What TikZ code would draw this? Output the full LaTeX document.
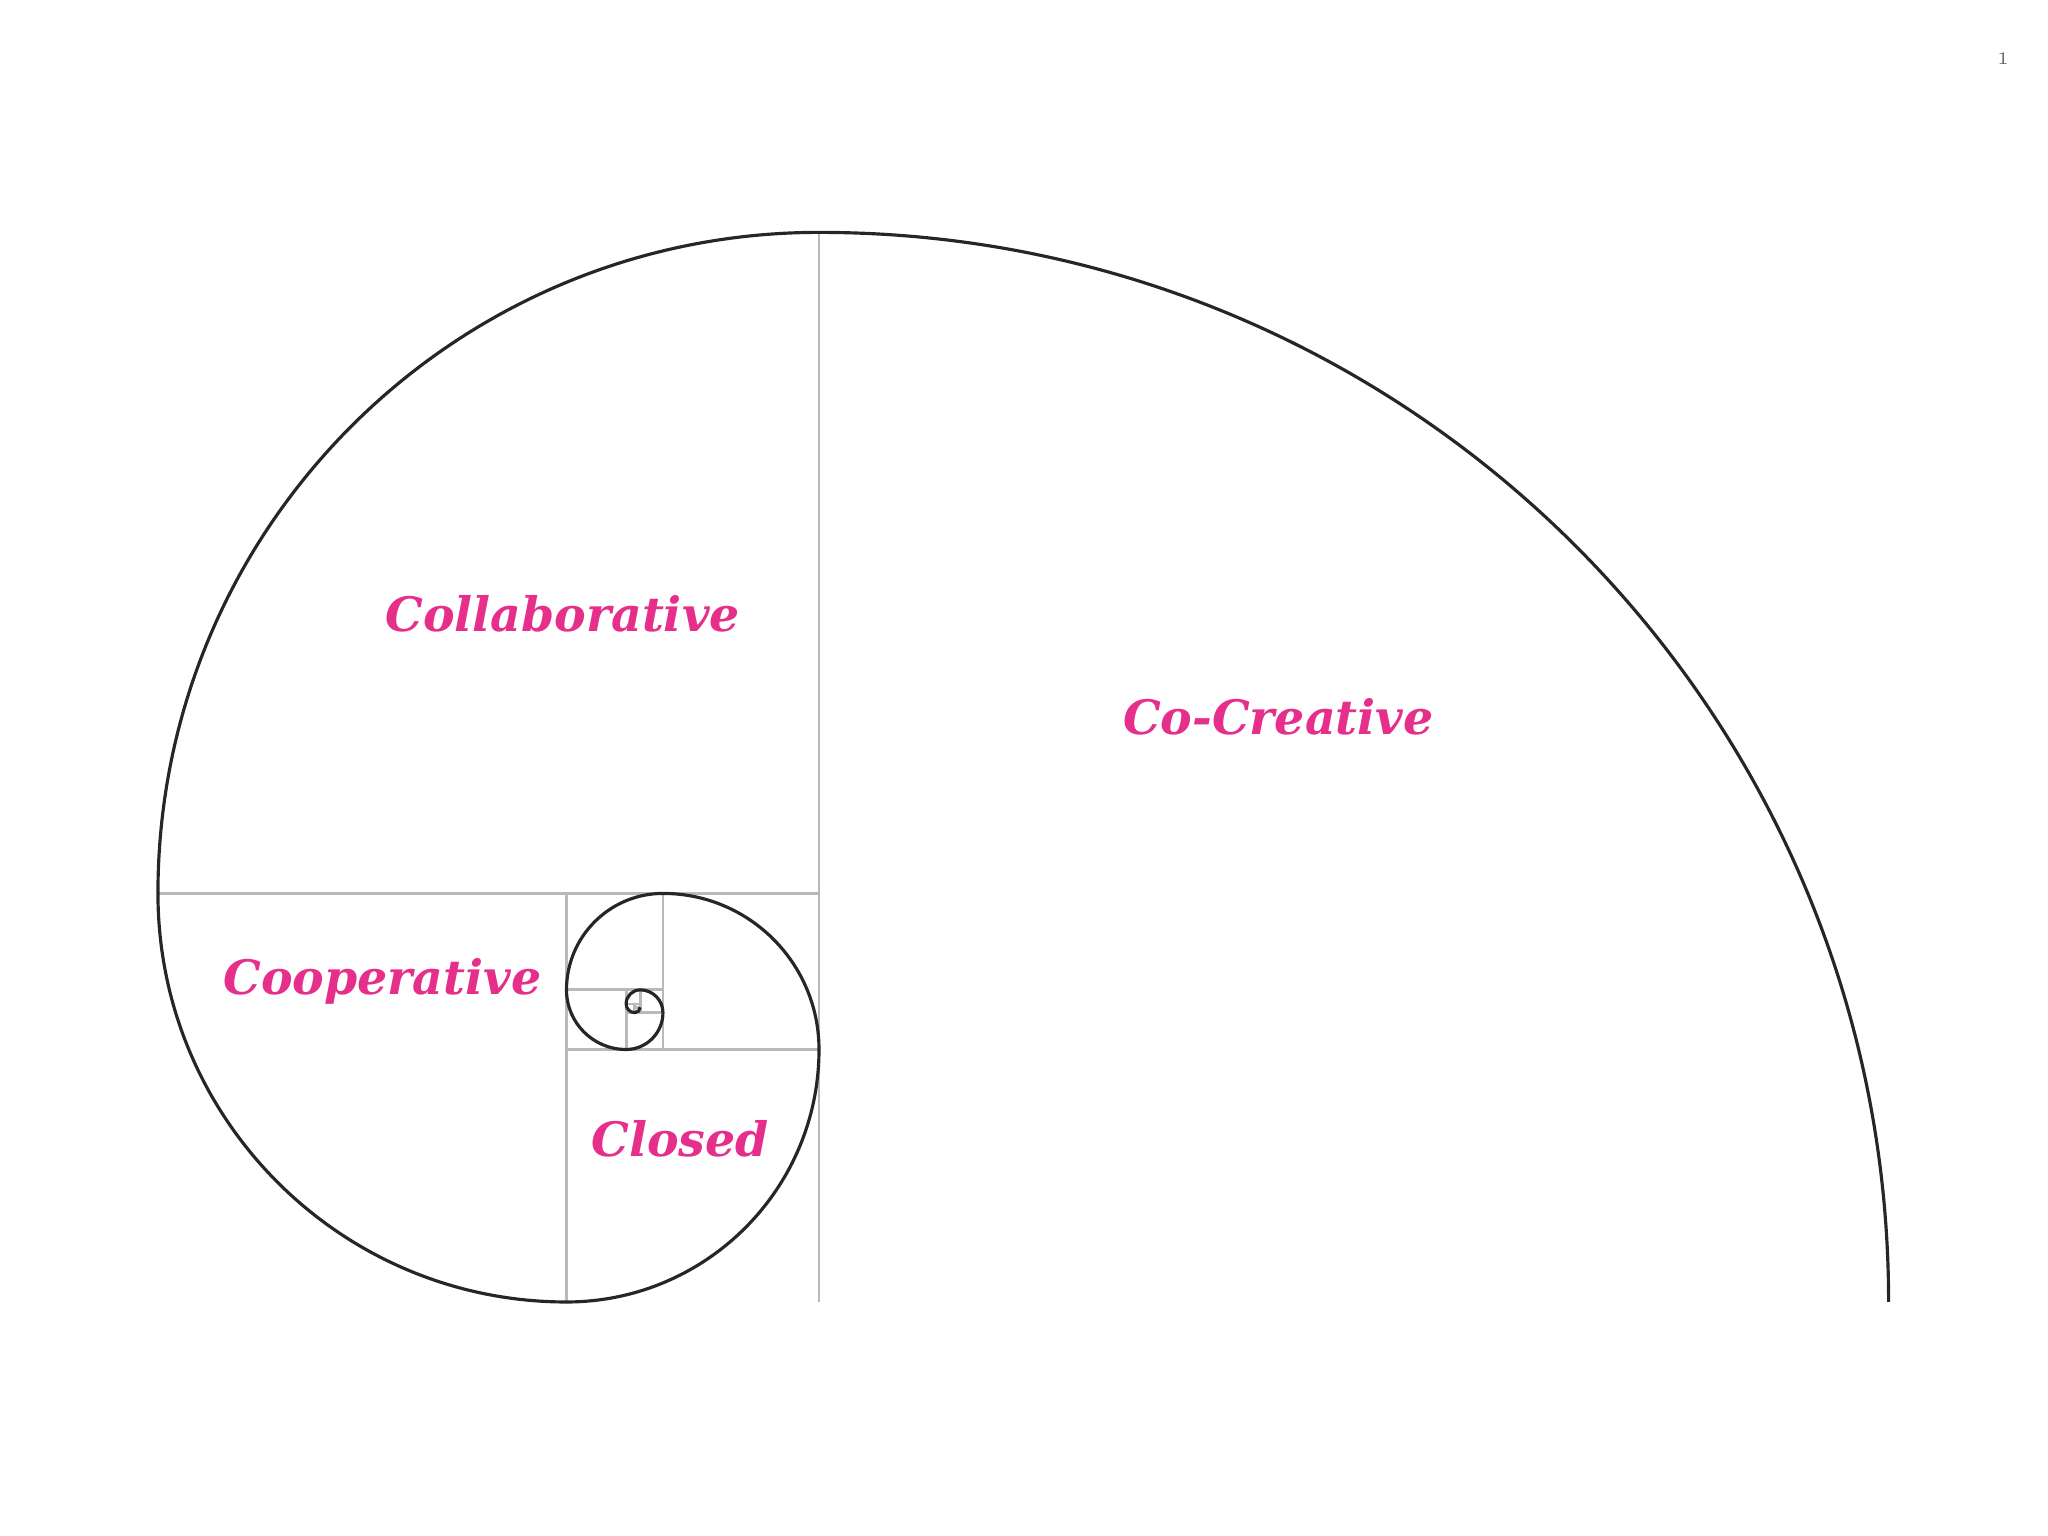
\documentclass[tikz,border=0pt]{standalone}
\usepackage{fontspec}
\usepackage{xcolor}
\usepackage{tikz}
\usetikzlibrary{calc}
\newfontfamily\phasefont{DejaVu Serif}
\definecolor{phasepink}{HTML}{E62E8B}

\begin{document}
\begin{tikzpicture}[
spiral line/.style = {line width=0.9pt, black!85},
square line/.style = {line width=0.8pt, gray!55},
phase label/.style = {anchor=base, text=phasepink, font=\phasefont\bfseries\itshape\fontsize{13.5}{16}\selectfont},
page label/.style = {text=gray!80!black, font=\fontsize{5}{6}\selectfont}
]

\useasboundingbox (0,0) rectangle (20.48,15.36);

\coordinate (s0) at (18.886,2.34);

\path (s0) \foreach \k in {0,...,11} {arc[start angle=90*\k, delta angle=90, radius={10.696/1.618034^\k}] coordinate (e\k)};

\foreach \k in {0,...,11}
  \draw[square line] (e\k) -- ++({90*\k+270}:{10.696/1.618034^\k});

\draw[spiral line] (s0) \foreach \k in {0,...,11} {arc[start angle=90*\k, delta angle=90, radius={10.696/1.618034^\k}]};

\node (collab) at (5.625, 9.043) [phase label] {Collaborative};
\node (cocreative) at (12.783, 8.01) [phase label] {Co-Creative};
\node (coop) at (3.825, 5.41) [phase label] {Cooperative};
\node (closed) at (6.80, 3.793) [phase label] {Closed};

\node (pagenum) at (20.03, 14.77) [page label] {1};
\end{tikzpicture}
\end{document}
